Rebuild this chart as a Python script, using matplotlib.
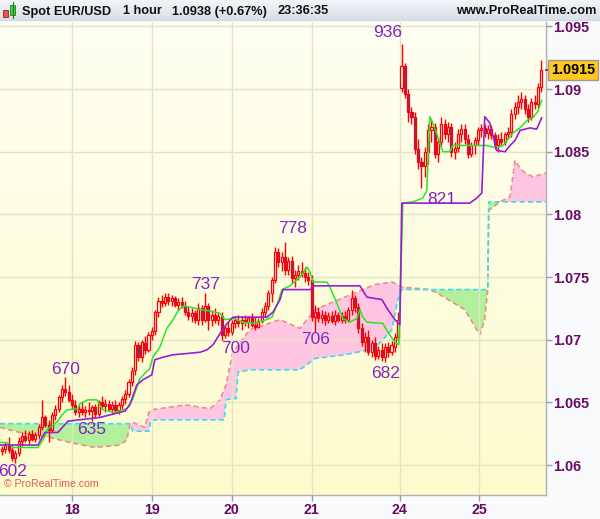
import numpy as np
import matplotlib
matplotlib.use("Agg")
import matplotlib.pyplot as plt
from matplotlib.colors import LinearSegmentedColormap
from matplotlib.patches import Rectangle

# ---------------- data ----------------
opens = [1.0611,1.0613,1.0616,1.0612,1.0606,1.0610,1.0619,1.0623,1.0620,1.0625,
         1.0621,1.0624,1.0630,1.0638,1.0632,1.0628,1.0640,1.0645,1.0654,1.0661,
         1.0658,1.0652,1.0648,1.0642,1.0645,1.0642,1.0644,1.0643,1.0646,1.0641,
         1.0650,1.0647,1.0649,1.0645,1.0648,1.0644,1.0648,1.0653,1.0657,1.0666,
         1.0676,1.0696,1.0686,1.0697,1.0692,1.0704,1.0707,1.0722,1.0731,1.0729,
         1.0734,1.0731,1.0733,1.0728,1.0730,1.0727,1.0722,1.0719,1.0721,1.0716,
         1.0725,1.0716,1.0727,1.0716,1.0720,1.0716,1.0719,1.0704,1.0709,1.0706,
         1.0713,1.0716,1.0713,1.0716,1.0714,1.0717,1.0712,1.0710,1.0715,1.0722,
         1.0727,1.0737,1.0748,1.0770,1.0762,1.0766,1.0756,1.0763,1.0749,1.0752,
         1.0755,1.0753,1.0750,1.0748,1.0718,1.0722,1.0717,1.0720,1.0716,1.0719,
         1.0715,1.0720,1.0716,1.0719,1.0716,1.0724,1.0733,1.0726,1.0709,1.0698,
         1.0702,1.0690,1.0697,1.0687,1.0692,1.0686,1.0694,1.0690,1.0694,1.0702,
         1.0901,1.0918,1.0896,1.0882,1.0878,1.0852,1.0842,1.0839,1.0850,1.0867,
         1.0870,1.0848,1.0858,1.0872,1.0864,1.0870,1.0850,1.0853,1.0864,1.0868,
         1.0860,1.0848,1.0855,1.0859,1.0867,1.0869,1.0865,1.0868,1.0863,1.0855,
         1.0860,1.0858,1.0864,1.0866,1.0880,1.0886,1.0890,1.0892,1.0884,1.0878,
         1.0890,1.0888,1.0902]
highs = [1.0615,1.0618,1.0622,1.0616,1.0612,1.0622,1.0626,1.0628,1.0627,1.0628,
         1.0626,1.0633,1.0652,1.0640,1.0636,1.0642,1.0648,1.0656,1.0664,1.0670,
         1.0664,1.0657,1.0652,1.0648,1.0650,1.0647,1.0650,1.0648,1.0649,1.0652,
         1.0655,1.0653,1.0652,1.0651,1.0652,1.0650,1.0655,1.0660,1.0669,1.0678,
         1.0699,1.0698,1.0700,1.0703,1.0706,1.0710,1.0724,1.0734,1.0736,1.0737,
         1.0737,1.0736,1.0735,1.0733,1.0734,1.0731,1.0727,1.0725,1.0724,1.0729,
         1.0728,1.0737,1.0729,1.0724,1.0725,1.0722,1.0722,1.0712,1.0714,1.0716,
         1.0719,1.0720,1.0719,1.0720,1.0719,1.0721,1.0718,1.0717,1.0725,1.0730,
         1.0740,1.0750,1.0774,1.0773,1.0770,1.0778,1.0766,1.0767,1.0756,1.0760,
         1.0762,1.0758,1.0754,1.0752,1.0728,1.0726,1.0724,1.0723,1.0722,1.0723,
         1.0724,1.0722,1.0722,1.0723,1.0726,1.0740,1.0736,1.0729,1.0713,1.0706,
         1.0708,1.0700,1.0702,1.0695,1.0697,1.0697,1.0698,1.0699,1.0705,1.0722,
         1.0936,1.0921,1.0900,1.0886,1.0882,1.0860,1.0846,1.0854,1.0872,1.0875,
         1.0873,1.0862,1.0878,1.0876,1.0874,1.0873,1.0858,1.0868,1.0872,1.0872,
         1.0864,1.0858,1.0862,1.0870,1.0872,1.0872,1.0871,1.0871,1.0866,1.0864,
         1.0866,1.0866,1.0870,1.0884,1.0890,1.0895,1.0898,1.0895,1.0888,1.0893,
         1.0895,1.0905,1.0923]
lows = [1.0608,1.0610,1.0610,1.0603,1.0602,1.0607,1.0615,1.0618,1.0617,1.0619,
        1.0618,1.0621,1.0628,1.0630,1.0618,1.0626,1.0636,1.0642,1.0650,1.0655,
        1.0650,1.0645,1.0640,1.0638,1.0640,1.0638,1.0640,1.0635,1.0638,1.0639,
        1.0645,1.0642,1.0643,1.0641,1.0642,1.0641,1.0645,1.0649,1.0654,1.0663,
        1.0672,1.0683,1.0682,1.0689,1.0690,1.0700,1.0704,1.0718,1.0726,1.0727,
        1.0728,1.0727,1.0726,1.0724,1.0725,1.0720,1.0716,1.0714,1.0713,1.0712,
        1.0712,1.0714,1.0708,1.0711,1.0713,1.0712,1.0700,1.0701,1.0703,1.0704,
        1.0709,1.0710,1.0708,1.0711,1.0709,1.0710,1.0708,1.0709,1.0713,1.0718,
        1.0724,1.0730,1.0745,1.0758,1.0755,1.0752,1.0752,1.0745,1.0742,1.0748,
        1.0750,1.0746,1.0744,1.0715,1.0706,1.0714,1.0713,1.0712,1.0713,1.0713,
        1.0712,1.0714,1.0713,1.0713,1.0714,1.0720,1.0722,1.0705,1.0695,1.0690,
        1.0688,1.0686,1.0684,1.0685,1.0683,1.0682,1.0686,1.0688,1.0690,1.0700,
        1.0898,1.0893,1.0874,1.0872,1.0848,1.0836,1.0821,1.0830,1.0840,1.0858,
        1.0845,1.0842,1.0854,1.0860,1.0858,1.0846,1.0844,1.0850,1.0858,1.0856,
        1.0845,1.0846,1.0848,1.0855,1.0862,1.0862,1.0860,1.0860,1.0852,1.0850,
        1.0855,1.0855,1.0860,1.0862,1.0876,1.0880,1.0884,1.0880,1.0874,1.0875,
        1.0884,1.0885,1.0898]
closes = [1.0613,1.0616,1.0612,1.0606,1.0610,1.0619,1.0623,1.0620,1.0625,1.0621,
          1.0624,1.0630,1.0638,1.0632,1.0628,1.0640,1.0645,1.0654,1.0661,1.0658,
          1.0652,1.0648,1.0642,1.0645,1.0642,1.0644,1.0643,1.0646,1.0641,1.0650,
          1.0647,1.0649,1.0645,1.0648,1.0644,1.0648,1.0653,1.0657,1.0666,1.0675,
          1.0696,1.0686,1.0698,1.0692,1.0704,1.0707,1.0722,1.0731,1.0729,1.0734,
          1.0731,1.0733,1.0728,1.0730,1.0727,1.0722,1.0719,1.0721,1.0716,1.0725,
          1.0716,1.0727,1.0716,1.0720,1.0716,1.0719,1.0704,1.0709,1.0706,1.0713,
          1.0716,1.0713,1.0716,1.0714,1.0717,1.0712,1.0710,1.0715,1.0722,1.0727,
          1.0737,1.0748,1.0770,1.0762,1.0766,1.0756,1.0763,1.0749,1.0752,1.0755,
          1.0753,1.0750,1.0748,1.0718,1.0722,1.0717,1.0720,1.0716,1.0719,1.0715,
          1.0720,1.0716,1.0719,1.0716,1.0724,1.0733,1.0726,1.0709,1.0698,1.0702,
          1.0690,1.0697,1.0687,1.0692,1.0686,1.0694,1.0690,1.0696,1.0702,1.0716,
          1.0918,1.0896,1.0882,1.0878,1.0852,1.0842,1.0839,1.0850,1.0867,1.0870,
          1.0848,1.0858,1.0872,1.0864,1.0870,1.0850,1.0853,1.0864,1.0868,1.0860,
          1.0848,1.0855,1.0859,1.0867,1.0869,1.0865,1.0868,1.0863,1.0855,1.0860,
          1.0858,1.0864,1.0866,1.0880,1.0886,1.0890,1.0892,1.0884,1.0878,1.0890,
          1.0888,1.0902,1.0915]

# Tenkan (green) and Kijun (purple) line vertices: (bar index, price)
tenkan_x = [-0.6,1.5,3.3,10.8,12.3,13.5,15.3,16.8,18.0,19.5,22.8,23.4,25.8,28.5,30.3,33.9,37.5,
            39.3,41.4,44.4,45.3,47.4,49.5,51.4,52.9,54.4,56.5,59.5,62.5,65.5,67.0,69.4,72.4,
            75.4,78.4,81.1,82.9,84.1,86.5,89.5,91.6,92.5,93.4,97.6,98.5,100.6,102.4,104.5,
            106.6,107.5,108.4,109.6,114.4,115.9,118.0,119.2,120.4,123.4,126.4,127.6,128.5,
            129.4,130.9,132.4,134.5,135.4,141.4,145.6,148.6,150.5,153.5,155.6,157.7,159.4,
            160.9,162.1]
tenkan_y = [1.0618,1.0618,1.0614,1.0614,1.0620,1.0628,1.0632,1.0635,1.0640,1.0644,1.0645,
            1.0649,1.0652,1.0652,1.0644,1.0642,1.0645,1.0653,1.0669,1.0677,1.0686,1.0694,
            1.0709,1.0716,1.0723,1.0727,1.0726,1.0724,1.0723,1.0721,1.0716,1.0717,1.0714,
            1.0713,1.0715,1.0718,1.0730,1.0740,1.0743,1.0750,1.0758,1.0754,1.0746,1.0746,
            1.0742,1.0729,1.0717,1.0714,1.0717,1.0724,1.0718,1.0714,1.0713,1.0706,1.0698,
            1.0696,1.0809,1.0810,1.0813,1.0819,1.0878,1.0873,1.0862,1.0850,1.0850,1.0855,
            1.0855,1.0855,1.0853,1.0855,1.0865,1.0869,1.0875,1.0877,1.0882,1.0891]
kijun_x = [-0.6,10.8,12.9,16.8,19.8,29.4,36.9,38.4,40.5,42.3,45.0,45.9,48.3,51.4,55.6,59.5,
           61.6,63.4,65.5,67.6,69.4,79.6,81.4,83.5,84.4,92.8,93.1,107.5,109.6,114.1,115.9,
           118.0,119.5,120.1,140.5,142.6,144.1,145.0,146.5,148.6,151.1,152.6,154.1,155.6,
           158.6,160.6,162.1]
kijun_y = [1.0616,1.0616,1.0626,1.0626,1.0635,1.0638,1.0643,1.0648,1.0664,1.0668,1.0672,
           1.0684,1.0686,1.0688,1.0689,1.0690,1.0692,1.0696,1.0705,1.0713,1.0718,1.0718,
           1.0722,1.0732,1.0740,1.0740,1.0743,1.0743,1.0734,1.0732,1.0724,1.0716,1.0712,
           1.0809,1.0809,1.0813,1.0817,1.0878,1.0873,1.0851,1.0850,1.0855,1.0859,1.0867,
           1.0869,1.0868,1.0877]

# Ichimoku cloud (span A = salmon, span B = cyan), common vertices
cloud_x = [-0.6,5.4,14.4,20.4,27.9,35.4,37.5,38.4,39.3,42.9,44.1,44.7,55.0,62.5,65.5,66.7,
           67.3,69.1,70.3,70.9,74.5,83.5,89.5,94.0,103.0,112.0,117.1,118.9,120.1,128.5,
           131.5,139.0,143.5,145.0,145.9,146.2,149.5,152.6,154.1,155.6,157.1,159.5,163.4]
span_a = [1.0630,1.0626,1.0622,1.0618,1.0614,1.0616,1.0620,1.0632,1.0634,1.0630,1.0642,
          1.0644,1.0648,1.0645,1.0652,1.0660,1.0664,1.0688,1.0693,1.0696,1.0708,1.0716,
          1.0709,1.0724,1.0734,1.0744,1.0746,1.0744,1.0742,1.0740,1.0736,1.0724,1.0704,
          1.0716,1.0740,1.0803,1.0810,1.0814,1.0843,1.0837,1.0833,1.0830,1.0833]
span_b = [1.0633,1.0633,1.0633,1.0633,1.0633,1.0633,1.0633,1.0633,1.0627,1.0627,1.0627,
          1.0636,1.0636,1.0636,1.0636,1.0636,1.0652,1.0653,1.0653,1.0674,1.0676,1.0676,
          1.0676,1.0685,1.0688,1.0693,1.0708,1.0732,1.0740,1.0740,1.0740,1.0740,1.0740,
          1.0740,1.0740,1.0810,1.0810,1.0810,1.0810,1.0810,1.0810,1.0810,1.0810]

# swing labels: bar index and whether high/low
label_bar = [4, 19, 27, 61, 66, 85, 94, 115, 120, 126]
label_kind = ['low', 'high', 'low', 'high', 'low', 'high', 'low', 'low', 'high', 'low']

day_labels = ['18', '19', '20', '21', '24', '25']
day_start_bar = [21, 45, 69, 93, 119.5, 143.3]
price_ticks = [1.06, 1.065, 1.07, 1.075, 1.08, 1.085, 1.09, 1.095]
price_tick_labels = ['1.06', '1.065', '1.07', '1.075', '1.08', '1.085', '1.09', '1.095']
last_price_label = '1.0915'
header_parts = ['Spot EUR/USD', '1 hour', '1.0938 (+0.67%)', '23:36:35']

# ---------------- layout ----------------
W, H = 600, 519
fig = plt.figure(figsize=(W / 100, H / 100), dpi=100)
fig.patch.set_facecolor('#f9fafb')

def fx(px):
    return px / W

def fy(py):
    return 1 - py / H

ax = fig.add_axes([0, fy(495), fx(546), (495 - 22) / H])
xmin, xmax = -0.6, 163.4
ymin, ymax = 1.05761, 1.09535
ax.set_xlim(xmin, xmax)
ax.set_ylim(ymin, ymax)

grad = np.linspace(0, 1, 256).reshape(-1, 1)
bg_cmap = LinearSegmentedColormap.from_list('bg', ['#fdfbcc', '#fffff3'])
ax.imshow(grad, extent=[xmin, xmax, ymin, ymax], origin='lower', aspect='auto',
          cmap=bg_cmap, zorder=0, interpolation='bilinear')

ax.set_yticks(price_ticks)
ax.set_yticklabels(price_tick_labels)
ax.set_xticks(day_start_bar)
ax.set_xticklabels(day_labels)
ax.grid(True, color='#e4e3c6', lw=1.0, zorder=0.5)
ax.set_axisbelow(False)
ax.yaxis.tick_right()
for s in ['top', 'left']:
    ax.spines[s].set_visible(False)
for s in ['right', 'bottom']:
    ax.spines[s].set_color('#a9b0b8')
    ax.spines[s].set_linewidth(1.0)
ax.tick_params(axis='y', which='both', length=4, width=1, color='#9aa0a8', pad=1,
               labelsize=10.4, labelcolor='#6a0a62')
ax.tick_params(axis='x', which='both', length=4, width=1, color='#9aa0a8', pad=2,
               labelsize=10.2, labelcolor='#6a0a62')
for t in ax.get_yticklabels() + ax.get_xticklabels():
    t.set_fontweight('bold')
    t.set_family('Liberation Sans')

# cloud
cx = np.array(cloud_x)
sa = np.array(span_a)
sb = np.array(span_b)
ax.fill_between(cx, sa, sb, where=sa >= sb, interpolate=True, color='#ffc6e2', lw=0, zorder=1)
ax.fill_between(cx, sa, sb, where=sa < sb, interpolate=True, color='#b2f09c', lw=0, zorder=1)
ax.plot(cx, sa, color='#f28b8b', lw=1.2, ls=(0, (3, 2)), zorder=2)
ax.plot(cx, sb, color='#2fe0ee', lw=1.2, ls=(0, (3, 2)), zorder=2)

# candles
o = np.array(opens); h = np.array(highs); l = np.array(lows); c = np.array(closes)
xb = np.arange(len(o))
up = c >= o
ax.vlines(xb, l, h, color='#ff0000', lw=1.0, zorder=4)
body_lo = np.minimum(o, c)
body_h = np.maximum(np.abs(c - o), 0.00005)
ax.bar(xb, body_h, bottom=body_lo, width=0.62,
       color=np.where(up, '#fffde8', '#5b3aa2'), edgecolor='#ff0000', linewidth=0.9, zorder=5)

# tenkan / kijun
ax.plot(tenkan_x, tenkan_y, color='#27e627', lw=1.1, zorder=6)
ax.plot(kijun_x, kijun_y, color='#9a1ed6', lw=1.2, zorder=6)

# swing labels
label_dx = [-0.7, 0.2, 0.0, 0.0, 4.3, 2.4, 0.3, 0.3, -4.1, 6.1]
label_pad = [1, 0, 1, 1, 1, 6, 0, 4, 4, 4]
for b, kind, dx, pad in zip(label_bar, label_kind, label_dx, label_pad):
    lvl = highs[b] if kind == 'high' else lows[b]
    txt = '%d' % round(lvl * 10000)
    txt = txt[-3:]
    off = pad * 0.72 if kind == 'high' else -pad * 0.72
    ax.annotate(txt, xy=(b + dx, lvl), xytext=(0, off), textcoords='offset points',
                ha='center', va='bottom' if kind == 'high' else 'top',
                fontsize=12.5, color='#8424c4', family='Liberation Sans', zorder=8)

# current price marker
last = closes[-1]
ax.plot([1.0, 1.012], [last, last], transform=ax.get_yaxis_transform(), color='#6a0a62',
        lw=1.2, clip_on=False, zorder=9)
fig.text(fx(573), fy(70), last_price_label, ha='center', va='center', fontsize=10.4,
         fontweight='bold', family='Liberation Sans', color='#000000',
         bbox=dict(boxstyle='square,pad=0.18', fc='#ffc81a', ec='#9a9a9a', lw=1))

# copyright
ax.text(0.008, 0.012, '\u00a9 ProRealTime.com', transform=ax.transAxes, fontsize=7.6,
        color='#e05a5a', family='Liberation Sans', ha='left', va='bottom', zorder=9)

# header bar
hax = fig.add_axes([0, fy(21), 1, 21 / H])
hax.set_xlim(0, 1); hax.set_ylim(0, 1)
hgrad = np.linspace(0, 1, 64).reshape(-1, 1)
hcmap = LinearSegmentedColormap.from_list('hb', ['#d6dee7', '#f3f6f9'])
hax.imshow(hgrad, extent=[0, 1, 0, 1], origin='lower', aspect='auto', cmap=hcmap)
hax.axis('off')
hax.axhline(0.02, color='#aab4be', lw=1)

header_x = [22, 123, 172, 277]
for px, s in zip(header_x, header_parts):
    fig.text(fx(px), fy(11.5), s, ha='left', va='center', fontsize=9.2,
             fontweight='bold', family='Liberation Sans', color='#111111')
fig.text(fx(596), fy(11.5), 'www.ProRealTime.com', ha='right', va='center', fontsize=9.2,
         fontweight='bold', family='Liberation Sans', color='#111111')
# small candle icon
fig.patches.append(Rectangle((fx(3), fy(17)), fx(5), 7 / H, transform=fig.transFigure,
                             fc='#f05050', ec='#a02020', lw=0.6))
fig.patches.append(Rectangle((fx(10), fy(15)), fx(5), 10 / H, transform=fig.transFigure,
                             fc='#40d040', ec='#208020', lw=0.6))
fig.lines.append(plt.Line2D([fx(12.5), fx(12.5)], [fy(18), fy(2)], transform=fig.transFigure,
                            color='#208020', lw=0.8))

fig.savefig('out.png', dpi=100, facecolor=fig.get_facecolor())
